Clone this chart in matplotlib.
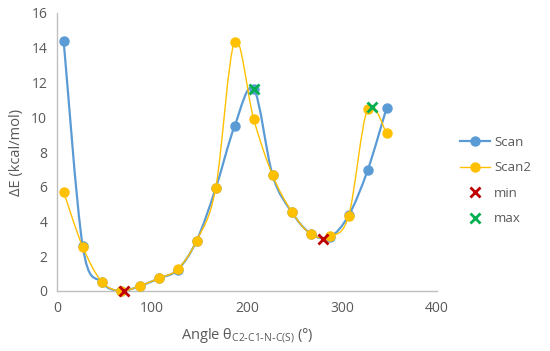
import numpy as np
import matplotlib
matplotlib.use("Agg")
import matplotlib.pyplot as plt
from matplotlib.path import Path
from matplotlib.patches import PathPatch
from matplotlib.lines import Line2D

angles = [7, 27, 47, 67, 87, 107, 127, 147, 167, 187, 207, 227, 247, 267, 287, 307, 327, 347]
scan = [14.4, 2.6, 0.5, 0.0, 0.28, 0.72, 1.22, 2.9, 5.9, 9.5, 11.65, 6.65, 4.55, 3.3, 3.1, 4.35, 6.95, 10.55]
scan2 = [5.7, 2.55, 0.54, 0.0, 0.29, 0.73, 1.25, 2.9, 5.9, 14.35, 9.9, 6.65, 4.57, 3.28, 3.15, 4.33, 10.5, 9.07]
min_x = [70, 280]
min_y = [0.0, 3.0]
max_x = [207, 332]
max_y = [11.65, 10.6]

BLUE = "#5B9BD5"
GOLD = "#FFC000"
RED = "#C00000"
GREEN = "#00B050"
GREY = "#595959"


def smooth_path(xs, ys):
    # excel-like smoothed line: catmull-rom as cubic beziers
    p = np.column_stack([xs, ys]).astype(float)
    verts = [p[0]]
    codes = [Path.MOVETO]
    n = len(p)
    for i in range(n - 1):
        p0 = p[i - 1] if i > 0 else p[i]
        p3 = p[i + 2] if i + 2 < n else p[i + 1]
        c1 = p[i] + (p[i + 1] - p0) / 6
        c2 = p[i + 1] - (p3 - p[i]) / 6
        verts += [c1, c2, p[i + 1]]
        codes += [Path.CURVE4] * 3
    return Path(verts, codes)


plt.rcParams['font.family'] = ['Open Sans', 'DejaVu Sans']
fig = plt.figure(figsize=(5.5, 3.51), dpi=100)
ax = fig.add_axes([57 / 550, 1 - 291 / 351, 380 / 550, 278 / 351])

ax.add_patch(PathPatch(smooth_path(angles, scan), fill=False, edgecolor=BLUE, lw=1.6, zorder=2))
ax.plot(angles, scan, 'o', color=BLUE, ms=6.5, zorder=3, clip_on=False)
ax.add_patch(PathPatch(smooth_path(angles, scan2), fill=False, edgecolor=GOLD, lw=1.0, zorder=4))
ax.plot(angles, scan2, 'o', color=GOLD, ms=6.5, zorder=5, clip_on=False)
ax.plot(min_x, min_y, 'x', color=RED, ms=6.5, mew=2, zorder=6, clip_on=False)
ax.plot(max_x, max_y, 'x', color=GREEN, ms=6.5, mew=2, zorder=6, clip_on=False)

ax.set_xlim(0, 400)
ax.set_ylim(0, 16)
ax.set_xticks(range(0, 401, 100))
ax.set_yticks(range(0, 17, 2))
for s in ['top', 'right']:
    ax.spines[s].set_visible(False)
for s in ['left', 'bottom']:
    ax.spines[s].set_color("#BFBFBF")
    ax.spines[s].set_linewidth(1.0)
ax.tick_params(length=0, labelsize=10, colors=GREY, pad=7)
ax.set_ylabel("ΔE (kcal/mol)", fontsize=10.5, color=GREY, labelpad=5)
ax.set_xlabel(r"Angle θ$_{\mathregular{C2\text{-}C1\text{-}N\text{-}C(S)}}$ (°)", fontsize=10.5, color=GREY, labelpad=8)

handles = [
    Line2D([], [], color=BLUE, lw=1.6, marker='o', ms=6.5),
    Line2D([], [], color=GOLD, lw=1.0, marker='o', ms=6.5),
    Line2D([], [], color=RED, lw=0, marker='x', ms=6.5, mew=2),
    Line2D([], [], color=GREEN, lw=0, marker='x', ms=6.5, mew=2),
]
fig.legend(handles, ["Scan", "Scan2", "min", "max"], loc='upper left',
           bbox_to_anchor=(448 / 550, 1 - 124 / 351), frameon=False,
           fontsize=9.5, labelcolor=GREY, handlelength=2.3, handletextpad=0.3,
           labelspacing=0.95)

fig.savefig("out.png", dpi=100)
